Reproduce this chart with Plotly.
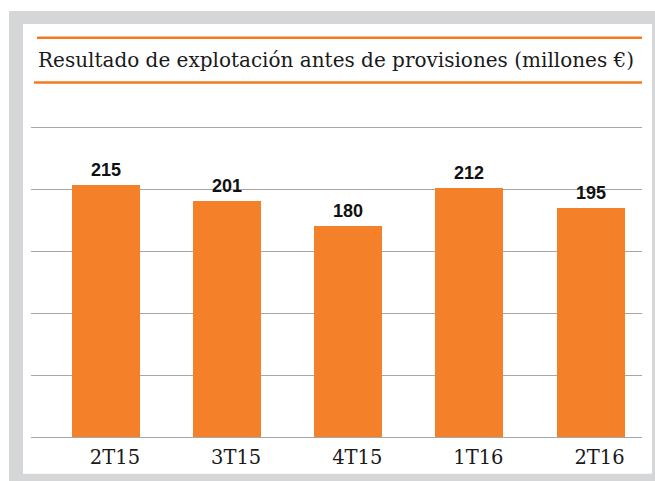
import plotly.graph_objects as go

categories = ["2T15", "3T15", "4T15", "1T16", "2T16"]
values = [215, 201, 180, 212, 195]
value_labels = ["215", "201", "180", "212", "195"]
title_text = "Resultado de explotación antes de provisiones (millones €)"

W, H = 655, 481
PAD = 2  # px of extra range above/below grid so edge gridlines are drawn
L, R, T, B = 31, 13, 128 - PAD, 41 - PAD
pw, ph = W - L - R, H - T - B

def px(x):
    return (x - L) / pw

def py(y):
    return (H - B - y) / ph

ORANGE = "#F4812A"
LINE_ORANGE = "#F47A20"
GRID = "#A6A6A6"
FRAME = "#D5D6D7"

xs = list(range(len(categories)))

fig = go.Figure()
fig.add_trace(go.Bar(
    x=xs, y=values, width=0.5615,
    marker=dict(color=ORANGE, line=dict(width=0)),
    hoverinfo="skip",
))

for xi, v, lab in zip(xs, values, value_labels):
    fig.add_annotation(x=xi, y=v, text=f"<b>{lab}</b>", showarrow=False,
                       yanchor="bottom", yshift=3,
                       font=dict(family="Liberation Sans, Arial, sans-serif", size=18, color="#111111"))

shapes = [
    dict(type="rect", xref="paper", yref="paper", x0=px(9), x1=px(660), y0=py(485), y1=py(10),
         fillcolor=FRAME, line=dict(width=0), layer="below"),
    dict(type="rect", xref="paper", yref="paper", x0=px(23), x1=px(652), y0=py(477), y1=py(23),
         fillcolor="white", line=dict(width=0), layer="below"),
    dict(type="line", xref="paper", yref="paper", x0=px(37), x1=px(642), y0=py(37), y1=py(37),
         line=dict(color=LINE_ORANGE, width=2.5)),
    dict(type="line", xref="paper", yref="paper", x0=px(34), x1=px(642), y0=py(82), y1=py(82),
         line=dict(color=LINE_ORANGE, width=2.5)),
]

fig.add_annotation(xref="paper", yref="paper", x=px(36), y=py(59.5), text=title_text,
                   showarrow=False, xanchor="left", yanchor="middle",
                   font=dict(family="DejaVu Serif, serif", size=20, color="#1a1a1a"))

ymax = 263.5
upp = ymax / 312.0  # data units per pixel
fig.update_layout(
    width=W, height=H,
    margin=dict(l=L, r=R, t=T, b=B, pad=0),
    paper_bgcolor="white", plot_bgcolor="rgba(0,0,0,0)",
    showlegend=False,
    shapes=shapes,
    bargap=0,
    xaxis=dict(range=[-0.619, 4.425], tickmode="array", tickvals=xs, ticktext=categories,
               showgrid=False, zeroline=False, showline=False, ticks="",
               ticklabelshift=9, ticklabelstandoff=4,
               tickfont=dict(family="DejaVu Serif, serif", size=19.5, color="#1a1a1a")),
    yaxis=dict(range=[-PAD * upp, ymax + PAD * upp], tickmode="linear", tick0=0, dtick=ymax / 5,
               showticklabels=False, showgrid=True, gridcolor=GRID, gridwidth=1,
               zeroline=False, showline=False, ticks=""),
)

fig.write_html("out.html", config={"displayModeBar": False},
               post_script="document.body.style.margin='0';document.body.style.overflow='hidden';")
